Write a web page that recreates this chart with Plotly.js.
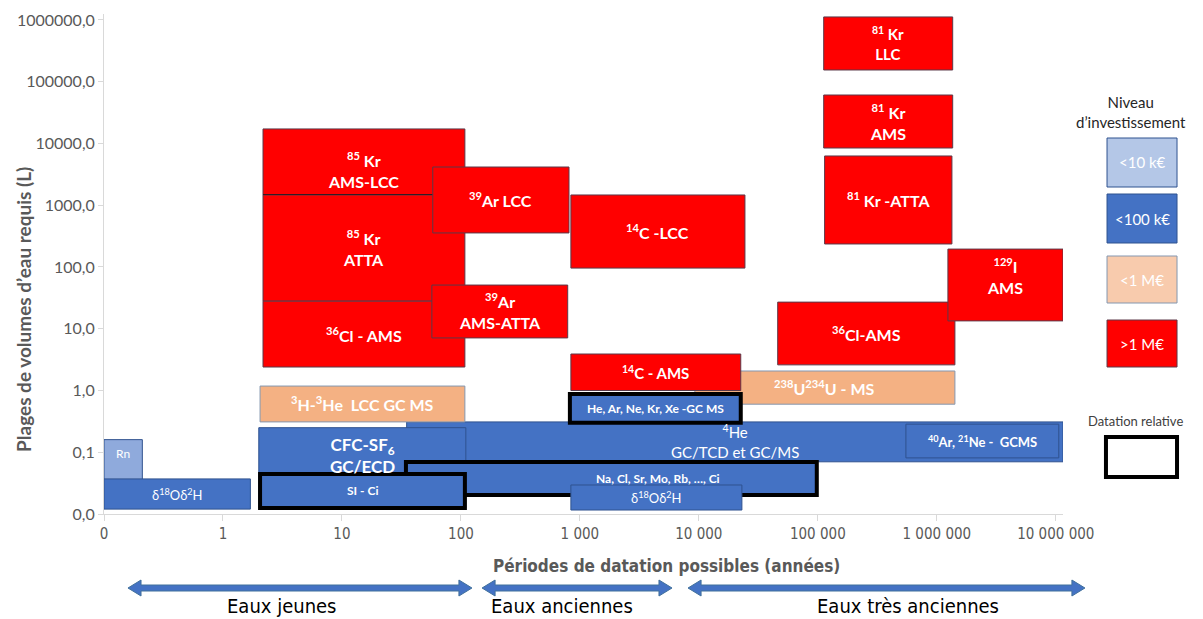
<!DOCTYPE html>
<html>
<head>
<meta charset="utf-8">
<script src="https://cdn.plot.ly/plotly-3.0.1.min.js"></script>
<style>
html, body { margin: 0; padding: 0; background: #fff; }
#graphe { width: 1203px; height: 619px; }
</style>
</head>
<body>
<div id="graphe"></div>
<script>
// Methodes de datation : periodes possibles (annees) et volumes d'eau requis (L)
var methodes = [
    'Rn',
    'δ<sup>18</sup>Oδ<sup>2</sup>H',
    '<sup>4</sup>He<br>GC/TCD et GC/MS',
    '<sup>40</sup>Ar, <sup>21</sup>Ne -  GCMS',
    'CFC-SF<sub>6</sub><br>GC/ECD',
    '<sup>3</sup>H-<sup>3</sup>He  LCC GC MS',
    'Na, Cl, Sr, Mo, Rb, …, Ci',
    'δ<sup>18</sup>Oδ<sup>2</sup>H',
    'SI - Ci',
    '<sup>238</sup>U<sup>234</sup>U - MS',
    '<sup>14</sup>C - AMS',
    'He, Ar, Ne, Kr, Xe -GC MS',
    '<sup>85</sup> Kr<br>AMS-LCC',
    '<sup>85</sup> Kr<br>ATTA',
    '<sup>36</sup>Cl - AMS',
    '<sup>39</sup>Ar LCC',
    '<sup>39</sup>Ar<br>AMS-ATTA',
    '<sup>14</sup>C -LCC',
    '<sup>36</sup>Cl-AMS',
    '<sup>129</sup>I<br>AMS',
    '<sup>81</sup> Kr<br>LLC',
    '<sup>81</sup> Kr<br>AMS',
    '<sup>81</sup> Kr -ATTA'
];
var ageMin = [0.1, 0.1, 35, 550000, 2, 2.05, 34.5, 840, 2.05, 9250, 840, 824,
              2.17, 2.17, 2.17, 58, 57, 840, 46000, 1240000, 112000, 112000, 114000];
var ageMax = [0.21, 1.7, 11500000, 10600000, 110, 108, 98000, 23000, 108, 1420000, 22500, 22500,
              108, 108, 108, 810, 790, 24400, 1420000, 11500000, 1360000, 1360000, 1340000];
var volMin = [0.036, 0.012, 0.07, 0.081, 0.0125, 0.31, 0.0203, 0.0116, 0.0125, 0.6, 1.0, 0.3,
              1466, 28, 2.4, 356, 7.1, 96, 2.6, 13.4, 155000, 8450, 236];
var volMax = [0.16, 0.037, 0.31, 0.285, 0.25, 1.18, 0.0695, 0.0295, 0.0445, 2.07, 3.9, 0.877,
              17200, 1466, 28, 4160, 51, 1466, 27, 195, 1120000, 61000, 6280];
var niveau = ['<10 k€', '<100 k€', '<100 k€', '<100 k€', '<100 k€', '<1 M€', '<100 k€', '<100 k€',
              '<100 k€', '<1 M€', '>1 M€', '<100 k€', '>1 M€', '>1 M€', '>1 M€', '>1 M€', '>1 M€',
              '>1 M€', '>1 M€', '>1 M€', '>1 M€', '>1 M€', '>1 M€'];
var relative = [false, false, false, false, false, false, true, false, true, false, false, true,
                false, false, false, false, false, false, false, false, false, false, false];
// position de l'etiquette quand elle n'est pas au centre de la boite
var etiquetteAge = {6: 4500};
var etiquetteVol = {0: 0.097, 4: 0.09, 12: 3700, 19: 71};

var niveaux = ['<10 k€', '<100 k€', '<1 M€', '>1 M€'];
var periodes = ['Eaux jeunes', 'Eaux anciennes', 'Eaux très anciennes'];

var xTicks = [0.1, 1, 10, 100, 1000, 10000, 100000, 1000000, 10000000];
var xTickText = ['0', '1', '10', '100', '1 000', '10 000', '100 000', '1 000 000', '10 000 000'];
var yTicks = [0.01, 0.1, 1, 10, 100, 1000, 10000, 100000, 1000000];
var yTickText = ['0,0', '0,1', '1,0', '10,0', '100,0', '1000,0', '10000,0', '100000,0', '1000000,0'];

// styles
var couleurs = {'<10 k€': '#8faadc', '<100 k€': '#4472c4', '<1 M€': '#f4b183', '>1 M€': '#ff0000'};
var couleursLegende = {'<10 k€': '#b4c7e7', '<100 k€': '#4472c4', '<1 M€': '#f8cbad', '>1 M€': '#ff0000'};
var bords = {'<10 k€': '#2f528f', '<100 k€': '#2f528f', '<1 M€': '#8497b0', '>1 M€': '#5c3848'};
var taille = [12, 13, 15, 13, 17, 16, 12, 13, 12, 16, 15, 12, 16, 16, 16, 16, 16, 16, 16, 16, 15, 16, 16];
var gras = [false, false, false, true, true, true, true, false, true, true, true, true,
            true, true, true, true, true, true, true, true, true, true, true];

var police = 'Lato, "Open Sans", sans-serif';
var policeEtroite = '"DejaVu Sans Condensed", "Liberation Sans Narrow", Lato, sans-serif';

var shapes = [];
var annotations = [];

function texte(xref, yref, x, y, t, font, extra) {
    var a = { xref: xref, yref: yref, x: x, y: y, text: t, showarrow: false,
              xanchor: 'center', yanchor: 'middle', align: 'center', font: font };
    for (var k in extra) a[k] = extra[k];
    annotations.push(a);
}

methodes.forEach(function(nom, i) {
    shapes.push({
        type: 'rect', xref: 'x', yref: 'y',
        x0: ageMin[i], x1: ageMax[i], y0: volMin[i], y1: volMax[i],
        fillcolor: couleurs[niveau[i]],
        line: relative[i] ? { color: '#000', width: 4 } : { color: bords[niveau[i]], width: 1 }
    });
    if (i === 12) {
        // trait noir entre 85Kr AMS-LCC et 85Kr ATTA
        shapes.push({
            type: 'line', xref: 'x', yref: 'y', x0: ageMin[i], x1: ageMax[i], y0: volMin[i], y1: volMin[i],
            line: { color: '#000', width: 2 }
        });
    }
    var ax = etiquetteAge[i] ? Math.log10(etiquetteAge[i]) : (Math.log10(ageMin[i]) + Math.log10(ageMax[i])) / 2;
    var ay = etiquetteVol[i] ? Math.log10(etiquetteVol[i]) : (Math.log10(volMin[i]) + Math.log10(volMax[i])) / 2;
    texte('x', 'y', ax, ay, nom,
          { family: police, size: taille[i], color: '#fff', weight: gras[i] ? 700 : 400 });
});

// legende (niveau d'investissement)
var legX0 = 1.0459, legX1 = 1.1189;
var legY = [[0.654, 0.752], [0.542, 0.64], [0.422, 0.516], [0.294, 0.388]];
niveaux.forEach(function(n, k) {
    shapes.push({
        type: 'rect', xref: 'paper', yref: 'paper', x0: legX0, x1: legX1, y0: legY[k][0], y1: legY[k][1],
        fillcolor: couleursLegende[n], line: { color: bords[n], width: 1 }
    });
    texte('paper', 'paper', (legX0 + legX1) / 2, (legY[k][0] + legY[k][1]) / 2, n,
          { family: police, size: 15, color: '#fff' });
});
texte('paper', 'paper', 1.0709, 0.804, 'Niveau<br>d’investissement',
      { family: police, size: 15, color: '#262626' });
texte('paper', 'paper', 1.0751, 0.186, 'Datation relative',
      { family: police, size: 13, color: '#404040' });
shapes.push({
    type: 'rect', xref: 'paper', yref: 'paper', x0: 1.0448, x1: 1.1189, y0: 0.074, y1: 0.154,
    fillcolor: '#fff', line: { color: '#000', width: 4 }
});

// fleches des periodes sous l'axe
var flecheX = [[0.025, 0.3837], [0.3942, 0.5923], [0.609, 1.0229]];
var etiquetteX = [0.1856, 0.4776, 0.8384];
var yc = -0.148, hTete = 0.016, hCorps = 0.006, lTete = 0.0136;
periodes.forEach(function(p, k) {
    var a = flecheX[k][0], b = flecheX[k][1];
    var path = 'M' + a + ',' + yc +
        ' L' + (a + lTete) + ',' + (yc + hTete) + ' L' + (a + lTete) + ',' + (yc + hCorps) +
        ' L' + (b - lTete) + ',' + (yc + hCorps) + ' L' + (b - lTete) + ',' + (yc + hTete) +
        ' L' + b + ',' + yc +
        ' L' + (b - lTete) + ',' + (yc - hTete) + ' L' + (b - lTete) + ',' + (yc - hCorps) +
        ' L' + (a + lTete) + ',' + (yc - hCorps) + ' L' + (a + lTete) + ',' + (yc - hTete) + ' Z';
    shapes.push({ type: 'path', xref: 'paper', yref: 'paper', path: path,
        fillcolor: '#4472c4', line: { color: '#41719c', width: 1 } });
    texte('paper', 'paper', etiquetteX[k], -0.184, p,
          { family: policeEtroite, size: 20, color: '#000' });
});

// titres des axes
texte('paper', 'paper', 0.587, -0.104, 'Périodes de datation possibles (années)',
      { family: policeEtroite, size: 17, color: '#595959', weight: 700 });
texte('paper', 'paper', -0.0845, 0.41, 'Plages de volumes d’eau requis (L)',
      { family: police, size: 19, color: '#595959', weight: 700 }, { textangle: -90 });

var layout = {
    width: 1203,
    height: 619,
    margin: { l: 104, r: 140, t: 14, b: 105 },
    paper_bgcolor: '#fff',
    plot_bgcolor: '#fff',
    showlegend: false,
    xaxis: {
        type: 'log',
        range: [-1, Math.log10(11500000)],
        tickvals: xTicks,
        ticktext: xTickText,
        tickfont: { family: policeEtroite, size: 15, color: '#595959' },
        showgrid: false,
        zeroline: false,
        showline: true,
        linecolor: '#d9d9d9',
        ticks: 'outside',
        ticklen: 6,
        tickcolor: '#d9d9d9'
    },
    yaxis: {
        type: 'log',
        range: [-2, 6.097],
        tickvals: yTicks,
        ticktext: yTickText,
        tickfont: { family: police, size: 16, color: '#595959' },
        showgrid: false,
        zeroline: false,
        showline: true,
        linecolor: '#d9d9d9',
        ticks: 'outside',
        ticklen: 5,
        tickcolor: '#d9d9d9'
    },
    shapes: shapes,
    annotations: annotations
};

Plotly.newPlot('graphe', [], layout, { displayModeBar: false, staticPlot: true });
</script>
</body>
</html>
